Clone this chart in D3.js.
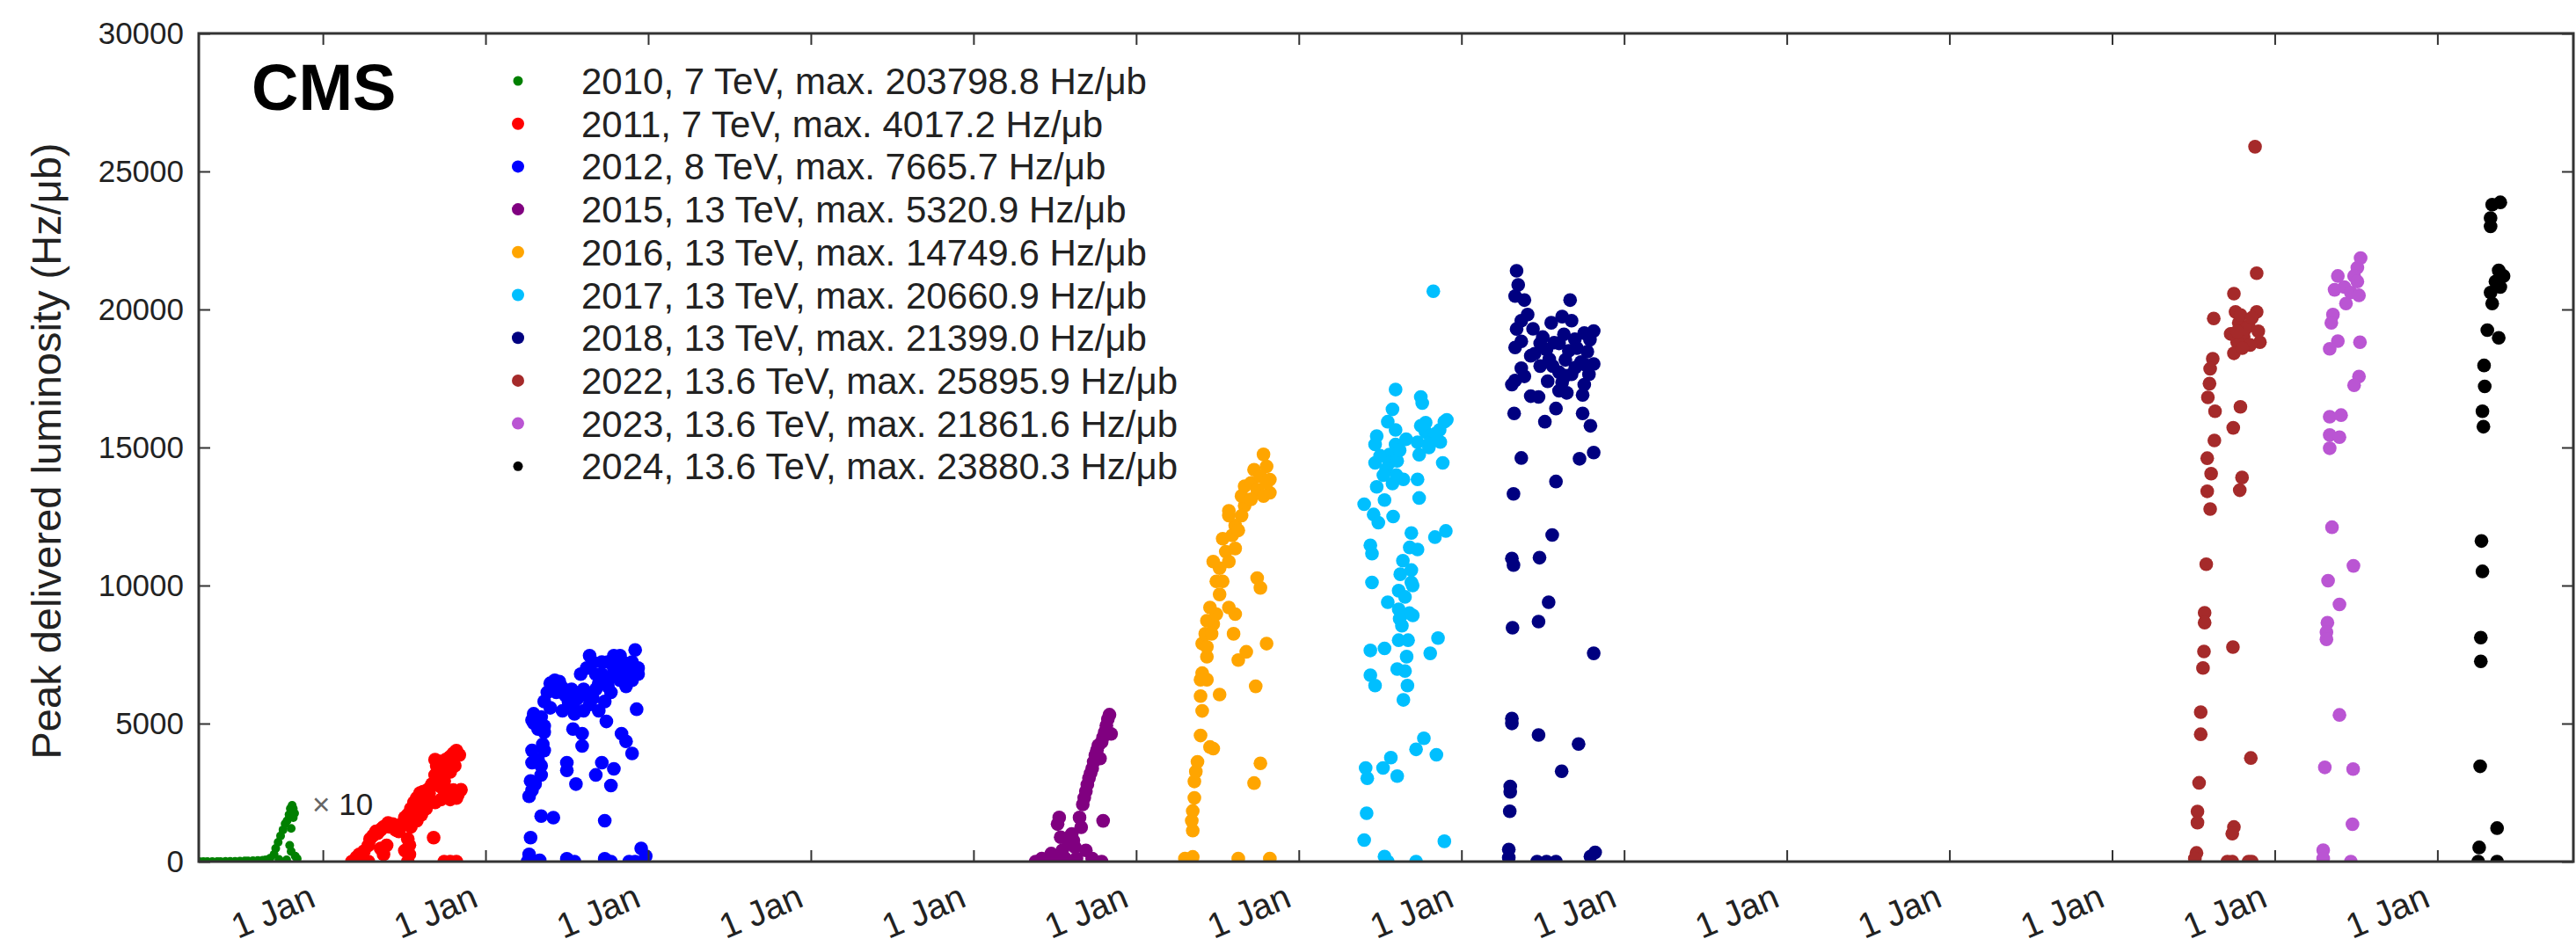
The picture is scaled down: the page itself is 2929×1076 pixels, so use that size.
<!DOCTYPE html>
<html>
<head>
<meta charset="utf-8">
<script src="https://cdn.jsdelivr.net/npm/d3@7"></script>
<style>
  body { margin: 0; background: #fff; }
  svg { display: block; }
  text { font-family: "Liberation Sans", Arial, Helvetica, sans-serif; }
</style>
</head>
<body>
<svg id="chart" width="2929" height="1076"></svg>
<script>
// Data-taking seasons shown in the legend
const seasons  = [2010, 2011, 2012, 2015, 2016, 2017, 2018, 2022, 2023, 2024];
const energies = ["7", "7", "8", "13", "13", "13", "13", "13.6", "13.6", "13.6"];
const maxima   = [203798.8, 4017.2, 7665.7, 5320.9, 14749.6, 20660.9, 21399.0, 25895.9, 21861.6, 23880.3];
const colours  = ["green", "red", "blue", "purple", "orange", "deepskyblue", "navy", "brown", "mediumorchid", "black"];

// 2010 values are drawn scaled up by this factor
const scale2010 = 10;

// Per-fill peak delivered luminosity: [date as fractional year, Hz/ub]
const lumi2010 = [
  [2010.240, 0.01], [2010.265, 0.02], [2010.290, 0.05], [2010.320, 0.1], [2010.350, 0.2], [2010.370, 0.3],
  [2010.400, 0.5], [2010.430, 0.8], [2010.460, 1.0], [2010.490, 1.5], [2010.520, 2.0], [2010.540, 2.5],
  [2010.570, 3.0], [2010.600, 4.0], [2010.630, 5.0], [2010.650, 6.0], [2010.675, 12], [2010.700, 26],
  [2010.710, 48], [2010.725, 70], [2010.740, 93], [2010.755, 115], [2010.768, 137], [2010.780, 148],
  [2010.792, 170], [2010.800, 192], [2010.811, 203.7988], [2010.818, 192], [2010.826, 175], [2010.818, 159],
  [2010.805, 120], [2010.796, 59], [2010.805, 37], [2010.830, 20], [2010.842, 10], [2010.730, 8], [2010.777, 6]
];

const lumi2011 = [
  [2011.178, 0], [2011.206, 150], [2011.224, 260], [2011.252, 370], [2011.280, 590], [2011.290, 820],
  [2011.308, 940], [2011.327, 1100], [2011.336, 1030], [2011.355, 1150], [2011.364, 1200], [2011.373, 1260],
  [2011.392, 1320], [2011.401, 1400], [2011.410, 1260], [2011.430, 1360], [2011.448, 1150], [2011.457, 1300],
  [2011.467, 1090], [2011.476, 1330], [2011.495, 1420], [2011.504, 1600], [2011.522, 1700], [2011.541, 1920],
  [2011.550, 1800], [2011.560, 2140], [2011.569, 2000], [2011.578, 2310], [2011.588, 2200], [2011.597, 2480],
  [2011.616, 2530], [2011.625, 2250], [2011.606, 1700], [2011.578, 1480], [2011.541, 1260], [2011.522, 820],
  [2011.532, 600], [2011.532, 260], [2011.373, 260], [2011.355, 480], [2011.392, 590], [2011.634, 1920],
  [2011.644, 2600], [2011.653, 2480], [2011.662, 2700], [2011.671, 2810], [2011.690, 3140], [2011.700, 3470],
  [2011.690, 3690], [2011.709, 3640], [2011.718, 3300], [2011.727, 3580], [2011.737, 3500], [2011.755, 3690],
  [2011.774, 3750], [2011.783, 3800], [2011.793, 3700], [2011.802, 3920], [2011.821, 4017.2], [2011.830, 3900],
  [2011.839, 3860], [2011.811, 3470], [2011.783, 3250], [2011.746, 2920], [2011.727, 2700], [2011.765, 2590],
  [2011.802, 2590], [2011.830, 2420], [2011.849, 2600], [2011.821, 2300], [2011.783, 2250], [2011.727, 2250],
  [2011.690, 2140], [2011.681, 870], [2011.746, 0], [2011.783, 0], [2011.821, 0], [2011.522, 0],
  [2011.280, 0], [2011.504, 400]
];

const lumi2012 = [
  [2012.268, 262], [2012.258, 0], [2012.277, 870], [2012.268, 2365], [2012.286, 2590], [2012.277, 2920],
  [2012.305, 2808], [2012.286, 3585], [2012.323, 3690], [2012.286, 4025], [2012.352, 4250], [2012.361, 4025],
  [2012.342, 3470], [2012.342, 3140], [2012.296, 5353], [2012.296, 5020], [2012.361, 4910], [2012.361, 4690],
  [2012.342, 1646], [2012.417, 1590], [2012.305, 0], [2012.333, 50],
  [2012.361, 5800], [2012.380, 6130], [2012.398, 6460], [2012.426, 6570], [2012.454, 6520], [2012.473, 6300],
  [2012.491, 6020], [2012.510, 5800], [2012.538, 5690], [2012.566, 5910], [2012.585, 6130], [2012.603, 6240],
  [2012.622, 6020], [2012.640, 5690], [2012.659, 5910], [2012.678, 6240], [2012.696, 6460], [2012.715, 6790],
  [2012.733, 6570], [2012.752, 6350], [2012.771, 6680], [2012.789, 7010], [2012.808, 7230], [2012.827, 7460],
  [2012.845, 7230], [2012.864, 7010], [2012.883, 6790], [2012.901, 6570], [2012.920, 7665.7], [2012.938, 7010],
  [2012.938, 6790], [2012.640, 7460], [2012.659, 7230], [2012.622, 7010], [2012.585, 6790], [2012.696, 5460],
  [2012.733, 5800], [2012.603, 5460], [2012.547, 5350], [2012.473, 5460], [2012.398, 5570], [2012.342, 5240],
  [2012.323, 4800], [2012.286, 5130], [2012.864, 6350], [2012.883, 6570], [2012.771, 6130], [2012.827, 6570],
  [2012.901, 7230], [2012.920, 7010], [2012.752, 7230], [2012.789, 7460], [2012.715, 7230], [2012.678, 6790],
  [2012.529, 6240], [2012.435, 6130], [2012.845, 6790],
  [2012.500, 3585], [2012.500, 3305], [2012.556, 2808], [2012.538, 4800], [2012.594, 4635], [2012.594, 4190],
  [2012.715, 3585], [2012.678, 3140], [2012.771, 2755], [2012.789, 3360], [2012.733, 1480], [2012.743, 5077],
  [2012.836, 4635], [2012.864, 4357], [2012.901, 3915], [2012.929, 5520], [2012.957, 480], [2012.985, 200],
  [2012.500, 100], [2012.547, 0], [2012.733, 100], [2012.771, 0], [2012.883, 0], [2012.920, 0]
];

const lumi2015 = [
  [2015.382, 0], [2015.420, 110], [2015.459, 110], [2015.478, 290], [2015.498, 60], [2015.527, 1596],
  [2015.517, 1359], [2015.536, 883], [2015.546, 408], [2015.604, 1002], [2015.614, 765], [2015.623, 526],
  [2015.633, 110], [2015.652, 1596], [2015.662, 1240], [2015.672, 2072], [2015.681, 2310], [2015.691, 2547],
  [2015.691, 408], [2015.700, 2785], [2015.710, 3022], [2015.720, 3200], [2015.730, 3379], [2015.739, 3617],
  [2015.749, 3855], [2015.759, 4033], [2015.768, 4211], [2015.778, 3735], [2015.788, 4330], [2015.797, 4508],
  [2015.807, 4687], [2015.817, 4925], [2015.826, 5162], [2015.836, 5320.9], [2015.846, 4627], [2015.797, 1477],
  [2015.788, 0], [2015.730, 110], [2015.565, 110], [2015.585, 645]
];

const lumi2016 = [
  [2016.300, 110], [2016.319, 0], [2016.348, 170], [2016.348, 1121], [2016.342, 1477], [2016.348, 1834],
  [2016.358, 2309], [2016.358, 2903], [2016.367, 3260], [2016.377, 3617], [2016.396, 4567], [2016.454, 4151],
  [2016.406, 5459], [2016.396, 5994], [2016.513, 6053], [2016.435, 6588], [2016.406, 6826], [2016.435, 7420],
  [2016.406, 7895], [2016.425, 8252], [2016.474, 8608], [2016.435, 8727], [2016.493, 8965], [2016.454, 9203],
  [2016.513, 9678], [2016.493, 10153], [2016.513, 10629], [2016.474, 10866], [2016.551, 11223], [2016.570, 10866],
  [2016.532, 11698], [2016.590, 11817], [2016.609, 12173], [2016.570, 12531], [2016.628, 11996], [2016.570, 12709],
  [2016.667, 12887], [2016.648, 13244], [2016.667, 13600], [2016.706, 13719], [2016.744, 13481], [2016.783, 13244],
  [2016.725, 14194], [2016.783, 14749.6], [2016.802, 14313], [2016.822, 13838], [2016.822, 13362], [2016.744, 10272],
  [2016.764, 9916], [2016.609, 8965], [2016.599, 8252], [2016.628, 7301], [2016.677, 7598], [2016.802, 7895],
  [2016.735, 6350], [2016.764, 3558], [2016.725, 2845], [2016.474, 4092], [2016.628, 110], [2016.822, 110],
  [2016.570, 9203], [2016.532, 10153], [2016.609, 11342], [2016.648, 12531], [2016.706, 13125], [2016.764, 13957],
  [2016.802, 13719], [2016.396, 6588], [2016.435, 7776], [2016.464, 8252]
];

const lumi2017 = [
  [2017.827, 20660.9], [2017.595, 17099], [2017.750, 16830], [2017.759, 16606], [2017.576, 16382], [2017.547, 15934],
  [2017.595, 15636], [2017.479, 15412], [2017.469, 15113], [2017.595, 15113], [2017.556, 14740], [2017.469, 14441],
  [2017.556, 14441], [2017.605, 14516], [2017.537, 14217], [2017.750, 15785], [2017.779, 15561], [2017.808, 15412],
  [2017.866, 15636], [2017.895, 15934], [2017.730, 15188], [2017.740, 14740], [2017.808, 15188], [2017.885, 14441],
  [2017.643, 13844], [2017.576, 13695], [2017.479, 13576], [2017.730, 13844], [2017.740, 13172], [2017.527, 13097],
  [2017.402, 12948], [2017.460, 12575], [2017.489, 12277], [2017.692, 11903], [2017.837, 11754], [2017.904, 11978],
  [2017.440, 11455], [2017.450, 11157], [2017.682, 11380], [2017.730, 11306], [2017.692, 10560], [2017.624, 10410],
  [2017.450, 10112], [2017.692, 10112], [2017.614, 9813], [2017.653, 9589], [2017.547, 9395], [2017.614, 9141],
  [2017.701, 8917], [2017.634, 8544], [2017.614, 8021], [2017.672, 8021], [2017.856, 8096], [2017.440, 7648],
  [2017.527, 7723], [2017.808, 7544], [2017.663, 7424], [2017.605, 6976], [2017.653, 6902], [2017.440, 6752],
  [2017.469, 6379], [2017.668, 6379], [2017.643, 5857], [2017.769, 4468], [2017.721, 4065], [2017.846, 3871],
  [2017.566, 3766], [2017.411, 3393], [2017.518, 3393], [2017.421, 3020], [2017.605, 3095], [2017.417, 1751],
  [2017.402, 780], [2017.895, 736], [2017.527, 183], [2017.547, 0], [2017.721, 0],
  [2017.600, 14000], [2017.620, 14900], [2017.660, 15300], [2017.780, 15900], [2017.800, 15000], [2017.840, 15500],
  [2017.870, 15200], [2017.910, 16000], [2017.500, 14700], [2017.520, 14000], [2017.580, 12500], [2017.700, 10000],
  [2017.680, 9000], [2017.640, 10900], [2017.620, 8800]
];

const lumi2018 = [
  [2018.339, 21399.0], [2018.349, 20891], [2018.330, 20488], [2018.387, 20339], [2018.668, 20339], [2018.407, 19816],
  [2018.368, 19592], [2018.619, 19741], [2018.552, 19518], [2018.677, 19592], [2018.339, 19294], [2018.813, 19219],
  [2018.755, 19144], [2018.697, 18920], [2018.368, 18846], [2018.484, 18771], [2018.600, 18771], [2018.523, 18547],
  [2018.774, 18472], [2018.330, 18622], [2018.426, 18323], [2018.639, 18174], [2018.735, 18099], [2018.813, 18025],
  [2018.561, 17950], [2018.368, 17875], [2018.484, 17950], [2018.600, 17726], [2018.677, 17651], [2018.784, 17651],
  [2018.387, 17577], [2018.330, 17427], [2018.619, 17353], [2018.755, 17278], [2018.310, 17278], [2018.600, 17054],
  [2018.648, 16980], [2018.426, 16860], [2018.474, 16830], [2018.745, 16905], [2018.581, 16412], [2018.324, 16233],
  [2018.745, 16233], [2018.513, 15934], [2018.793, 15785], [2018.813, 14815], [2018.368, 14621], [2018.726, 14591],
  [2018.581, 13769], [2018.320, 13322], [2018.558, 11829], [2018.310, 10978], [2018.320, 10739], [2018.480, 11008],
  [2018.536, 9395], [2018.474, 8693], [2018.314, 8470], [2018.813, 7544], [2018.310, 5185], [2018.310, 5005],
  [2018.474, 4587], [2018.720, 4259], [2018.616, 3274], [2018.300, 2721], [2018.300, 2527], [2018.297, 1825],
  [2018.291, 437], [2018.291, 140], [2018.465, 0], [2018.523, 0], [2018.581, 0], [2018.793, 183], [2018.822, 332],
  [2018.450, 18400], [2018.500, 19000], [2018.540, 18200], [2018.570, 18800], [2018.630, 19100], [2018.660, 18500],
  [2018.700, 17900], [2018.710, 18600], [2018.760, 18000], [2018.790, 18900], [2018.640, 17600], [2018.530, 17400],
  [2018.440, 19300]
];

const lumi2022 = [
  [2022.879, 25895.9], [2022.889, 21313], [2022.749, 20573], [2022.759, 19913], [2022.889, 19913], [2022.625, 19673],
  [2022.779, 19513], [2022.839, 19413], [2022.899, 19213], [2022.739, 19113], [2022.809, 19013], [2022.769, 18813],
  [2022.909, 18813], [2022.849, 18713], [2022.749, 18413], [2022.729, 19113], [2022.619, 18213], [2022.603, 17853],
  [2022.599, 17313], [2022.589, 16813], [2022.633, 16313], [2022.789, 16473], [2022.745, 15713], [2022.629, 15253],
  [2022.585, 14613], [2022.609, 14053], [2022.585, 13413], [2022.603, 12773], [2022.799, 13913], [2022.785, 13453],
  [2022.579, 10773], [2022.569, 9013], [2022.569, 8653], [2022.743, 7773], [2022.565, 7613], [2022.559, 7013],
  [2022.545, 5413], [2022.545, 4613], [2022.853, 3753], [2022.535, 2853], [2022.525, 1813], [2022.525, 1413],
  [2022.749, 1253], [2022.739, 1013], [2022.519, 313], [2022.509, 113], [2022.709, 0], [2022.739, 0],
  [2022.839, 0], [2022.859, 0], [2022.790, 19800], [2022.820, 19300], [2022.860, 19700], [2022.800, 18600],
  [2022.770, 19200]
];

const lumi2023 = [
  [2023.528, 21861.6], [2023.508, 21513], [2023.488, 21213], [2023.388, 21213], [2023.508, 21013], [2023.428, 20813],
  [2023.468, 20613], [2023.518, 20513], [2023.368, 20713], [2023.438, 20213], [2023.358, 19813], [2023.348, 19513],
  [2023.388, 18853], [2023.524, 18813], [2023.338, 18573], [2023.518, 17573], [2023.488, 17253], [2023.338, 16113],
  [2023.408, 16173], [2023.338, 15453], [2023.398, 15373], [2023.338, 14973], [2023.352, 12113], [2023.484, 10713],
  [2023.328, 10173], [2023.398, 9313], [2023.324, 8653], [2023.318, 8313], [2023.318, 8053], [2023.398, 5313],
  [2023.308, 3413], [2023.482, 3353], [2023.478, 1353], [2023.298, 413], [2023.298, 113], [2023.468, 0]
];

const lumi2024 = [
  [2024.387, 23880.3], [2024.337, 23800], [2024.327, 23313], [2024.327, 23013], [2024.377, 21413], [2024.407, 21213],
  [2024.357, 21013], [2024.387, 20813], [2024.327, 20613], [2024.337, 20213], [2024.307, 19253], [2024.377, 18973],
  [2024.287, 17973], [2024.291, 17213], [2024.277, 16313], [2024.283, 15753], [2024.271, 11613], [2024.277, 10513],
  [2024.267, 8113], [2024.267, 7253], [2024.263, 3453], [2024.367, 1213], [2024.257, 513], [2024.251, 0],
  [2024.367, 0]
];

const seasonData = [lumi2010, lumi2011, lumi2012, lumi2015, lumi2016, lumi2017, lumi2018, lumi2022, lumi2023, lumi2024];

// Axis ticks
const yTicks = [0, 5000, 10000, 15000, 20000, 25000, 30000];
const xTickYears = [2011, 2012, 2013, 2014, 2015, 2016, 2017, 2018, 2019, 2020, 2021, 2022, 2023, 2024];
const xTickText = "1 Jan";
const xStart = 2010.237, xEnd = 2024.836;

// ---------------------------------------------------------------
const svg = d3.select("#chart");
const W = 2929, H = 1076;
const plot = { left: 226, right: 2926, top: 38, bottom: 980 };

const x = d3.scaleLinear().domain([xStart, xEnd]).range([plot.left, plot.right]);
const y = d3.scaleLinear().domain([0, 30000]).range([plot.bottom, plot.top]);

svg.append("rect").attr("width", W).attr("height", H).attr("fill", "#fff");

svg.append("clipPath").attr("id", "plot-clip")
  .append("rect")
  .attr("x", plot.left).attr("y", plot.top)
  .attr("width", plot.right - plot.left).attr("height", plot.bottom - plot.top);

// Points, one group per season
const points = svg.append("g").attr("clip-path", "url(#plot-clip)");
seasonData.forEach((rows, i) => {
  const factor = seasons[i] === 2010 ? scale2010 : 1;
  points.append("g")
    .attr("fill", colours[i])
    .selectAll("circle")
    .data(rows)
    .join("circle")
    .attr("cx", d => x(d[0]))
    .attr("cy", d => y(d[1] * factor))
    .attr("r", seasons[i] === 2010 ? 5 : 7.8);
});

// Axes with inward ticks on all four sides
const tickLen = 13;
const axisStyle = g => {
  g.select(".domain").remove();
  g.selectAll(".tick line").attr("stroke", "#333").attr("stroke-width", 2);
  g.selectAll(".tick text").attr("fill", "#222");
};

svg.append("g")
  .attr("transform", `translate(0,${plot.bottom})`)
  .call(d3.axisBottom(x).tickValues(xTickYears).tickSize(-tickLen).tickFormat(() => xTickText))
  .call(axisStyle)
  .call(g => g.selectAll(".tick text")
    .attr("font-size", 40)
    .attr("text-anchor", "end")
    .attr("y", 0).attr("dy", 0)
    .attr("transform", "translate(-7,50) rotate(-23)"));

svg.append("g")
  .attr("transform", `translate(0,${plot.top})`)
  .call(d3.axisTop(x).tickValues(xTickYears).tickSize(-tickLen).tickFormat(""))
  .call(axisStyle);

svg.append("g")
  .attr("transform", `translate(${plot.left},0)`)
  .call(d3.axisLeft(y).tickValues(yTicks).tickSize(-tickLen).tickPadding(17).tickFormat(d3.format("d")))
  .call(axisStyle)
  .call(g => g.selectAll(".tick text").attr("font-size", 35));

svg.append("g")
  .attr("transform", `translate(${plot.right},0)`)
  .call(d3.axisRight(y).tickValues(yTicks).tickSize(-tickLen).tickFormat(""))
  .call(axisStyle);

// Frame
svg.append("rect")
  .attr("x", plot.left).attr("y", plot.top)
  .attr("width", plot.right - plot.left).attr("height", plot.bottom - plot.top)
  .attr("fill", "none").attr("stroke", "#333").attr("stroke-width", 3);

// Y axis title
svg.append("text")
  .attr("transform", `translate(69,${(plot.top + plot.bottom) / 2 + 4}) rotate(-90)`)
  .attr("text-anchor", "middle")
  .attr("font-size", 47)
  .attr("fill", "#222")
  .text("Peak delivered luminosity (Hz/\u03bcb)");

// Experiment tag
svg.append("text")
  .attr("x", 286).attr("y", 125)
  .attr("font-size", 74).attr("font-weight", "bold")
  .attr("fill", "#000")
  .text("CMS");

// Scale note beside the 2010 points
const note = svg.append("text")
  .attr("x", x(2010.935)).attr("y", y(1700))
  .attr("font-size", 35).attr("fill", "#222");
note.append("tspan").attr("fill", "#666").text("\u00d7");
note.append("tspan").text(" " + scale2010);

// Legend
const legend = svg.append("g");
seasons.forEach((yr, i) => {
  const cy = 92 + i * 48.7;
  legend.append("circle")
    .attr("cx", 589).attr("cy", cy)
    .attr("r", (yr === 2010 || yr === 2024) ? 5.5 : 7)
    .attr("fill", colours[i]);
  legend.append("text")
    .attr("x", 661).attr("y", cy + 15)
    .attr("font-size", 42).attr("fill", "#222")
    .text(`${yr}, ${energies[i]} TeV, max. ${maxima[i].toFixed(1)} Hz/\u03bcb`);
});
</script>
</body>
</html>
